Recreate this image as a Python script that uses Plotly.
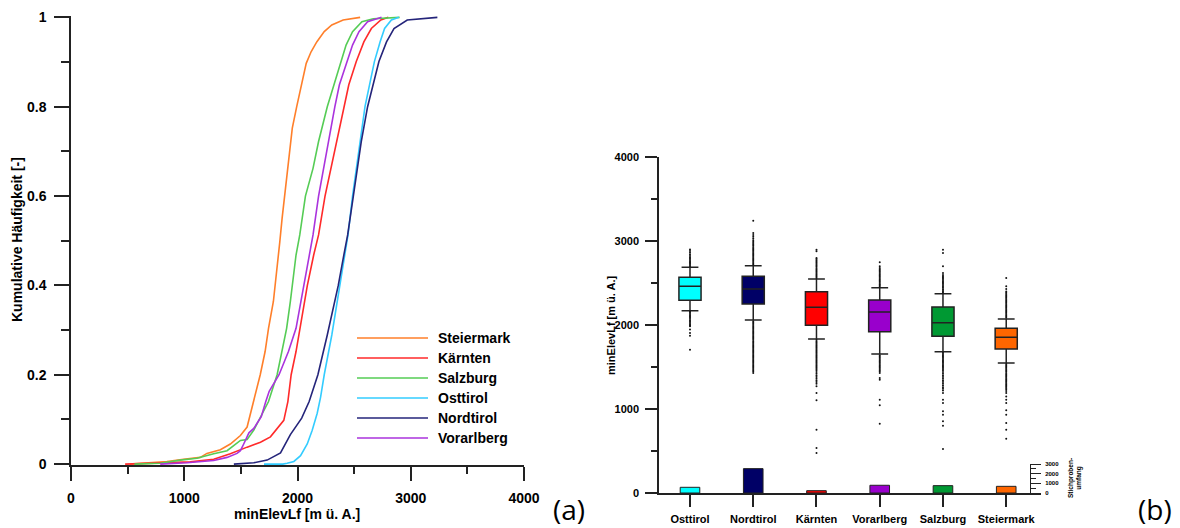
import plotly.graph_objects as go

# ---------------- data: cumulative frequency curves (panel a) ----------------
steiermark_x = [520, 847, 994, 1142, 1200, 1319, 1407, 1496, 1555, 1599, 1625, 1650, 1671, 1714, 1744, 1787,
                1804, 1820, 1844, 1864, 1887, 1914, 1937, 1954, 1993, 2037, 2077, 2120, 2170, 2236, 2303, 2403, 2553]
steiermark_f = [0, 0.006, 0.011, 0.015, 0.024, 0.032, 0.045, 0.064, 0.083, 0.129, 0.15, 0.177, 0.2, 0.252, 0.304,
                0.364, 0.4, 0.438, 0.498, 0.55, 0.6, 0.662, 0.722, 0.752, 0.8, 0.849, 0.897, 0.923, 0.945, 0.968,
                0.983, 0.994, 1.0]

kaernten_x = [478, 906, 1053, 1260, 1407, 1555, 1673, 1761, 1820, 1879, 1915, 1944, 1987, 2020, 2063, 2087, 2143,
              2186, 2243, 2296, 2346, 2409, 2453, 2519, 2586, 2652, 2736, 2802]
kaernten_f = [0, 0.004, 0.005, 0.011, 0.023, 0.038, 0.049, 0.061, 0.08, 0.098, 0.14, 0.2, 0.252, 0.304, 0.364,
              0.4, 0.468, 0.513, 0.6, 0.662, 0.722, 0.8, 0.849, 0.901, 0.945, 0.975, 0.994, 1.0]

salzburg_x = [560, 788, 965, 1112, 1260, 1378, 1496, 1555, 1614, 1671, 1744, 1820, 1864, 1904, 1937, 1954, 1987,
              2020, 2070, 2137, 2186, 2263, 2320, 2380, 2429, 2486, 2569, 2669, 2902]
salzburg_f = [0, 0.002, 0.009, 0.013, 0.023, 0.03, 0.053, 0.055, 0.076, 0.103, 0.14, 0.2, 0.252, 0.304, 0.364,
              0.4, 0.468, 0.513, 0.6, 0.662, 0.722, 0.8, 0.849, 0.901, 0.938, 0.968, 0.99, 0.997, 1.0]

osttirol_x = [1704, 1870, 1909, 1968, 2027, 2086, 2130, 2174, 2204, 2236, 2303, 2353, 2376, 2419, 2446, 2486, 2519,
              2553, 2596, 2636, 2679, 2729, 2769, 2829, 2895]
osttirol_f = [0, 0, 0.002, 0.006, 0.019, 0.045, 0.076, 0.114, 0.15, 0.2, 0.289, 0.364, 0.4, 0.468, 0.513, 0.6,
              0.662, 0.722, 0.8, 0.849, 0.901, 0.945, 0.975, 0.994, 1.0]

nordtirol_x = [1438, 1614, 1732, 1850, 1937, 2037, 2103, 2180, 2263, 2330, 2360, 2409, 2443, 2493, 2529, 2563, 2619,
               2669, 2719, 2786, 2852, 2969, 3235]
nordtirol_f = [0, 0.003, 0.009, 0.025, 0.066, 0.103, 0.14, 0.2, 0.289, 0.364, 0.4, 0.468, 0.513, 0.6, 0.662, 0.722,
               0.8, 0.849, 0.901, 0.945, 0.975, 0.994, 1.0]

vorarlberg_x = [788, 1024, 1260, 1378, 1466, 1496, 1525, 1571, 1614, 1680, 1720, 1750, 1837, 1920, 1987, 2030, 2077,
                2137, 2186, 2230, 2270, 2330, 2370, 2436, 2486, 2543, 2619, 2742]
vorarlberg_f = [0, 0.003, 0.008, 0.015, 0.024, 0.03, 0.045, 0.07, 0.08, 0.106, 0.14, 0.163, 0.2, 0.252, 0.304,
                0.364, 0.438, 0.513, 0.6, 0.662, 0.722, 0.8, 0.849, 0.901, 0.938, 0.968, 0.99, 1.0]

legend_names = ["Steiermark", "Kärnten", "Salzburg", "Osttirol", "Nordtirol", "Vorarlberg"]
line_colors = ["#FF7F2A", "#FF2A2A", "#55CC55", "#33CCFF", "#24247A", "#AA33DD"]

x_ticks_a = [0, 1000, 2000, 3000, 4000]
y_ticks_a = [0, 0.2, 0.4, 0.6, 0.8, 1]
y_ticklabels_a = ["0", "0.2", "0.4", "0.6", "0.8", "1"]

# ---------------- data: box plots (panel b) ----------------
categories = ["Osttirol", "Nordtirol", "Kärnten", "Vorarlberg", "Salzburg", "Steiermark"]
box_colors = ["#00FFFF", "#000066", "#FF0000", "#9900CC", "#009933", "#FF6600"]
q1_vals = [2294, 2250, 1996, 1921, 1865, 1714]
median_vals = [2460, 2429, 2210, 2155, 2028, 1853]
q3_vals = [2567, 2579, 2397, 2298, 2214, 1960]
lower_whisker = [2171, 2060, 1833, 1655, 1683, 1548]
upper_whisker = [2687, 2706, 2548, 2444, 2373, 2071]
sample_size = [590, 2520, 240, 800, 760, 690]
y_ticks_b = [0, 1000, 2000, 3000, 4000]
n_ticks_b = [0, 1000, 2000, 3000]

outliers_osttirol = [2700, 2715, 2730, 2745, 2760, 2775, 2790, 2805, 2820, 2840, 2860, 2880, 2900,
                     2160, 2145, 2130, 2115, 2100, 2085, 2070, 2055, 2040, 2025, 2010, 1995, 1985,
                     1945, 1905, 1873, 1706]
outliers_nordtirol = [2720, 2735, 2750, 2765, 2780, 2795, 2810, 2825, 2840, 2855, 2870, 2885, 2900, 2915, 2930,
                      2945, 2960, 2975, 2990, 3010, 3030, 3050, 3070, 3095, 3242,
                      2045, 2030, 2015, 2000, 1985, 1970, 1955, 1940, 1925, 1910, 1895, 1880, 1865, 1850, 1835,
                      1820, 1805, 1790, 1775, 1760, 1745, 1730, 1715, 1700, 1685, 1670, 1655, 1640, 1625, 1610,
                      1595, 1580, 1565, 1550, 1535, 1520, 1505, 1490, 1475, 1460, 1445, 1430]
outliers_kaernten = [2560, 2575, 2590, 2605, 2620, 2635, 2650, 2665, 2680, 2695, 2710, 2725, 2740, 2755, 2770,
                     2785, 2798, 2877, 2897,
                     1820, 1805, 1790, 1775, 1760, 1745, 1730, 1715, 1700, 1685, 1670, 1655, 1640, 1625, 1610,
                     1595, 1580, 1565, 1550, 1535, 1520, 1505, 1490, 1475, 1460, 1440, 1420, 1400, 1380, 1360,
                     1340, 1320, 1300, 1270, 1190, 1103, 754, 536, 476]
outliers_vorarlberg = [2458, 2472, 2486, 2500, 2515, 2530, 2545, 2560, 2575, 2590, 2605, 2620, 2635, 2650, 2665,
                       2680, 2698, 2746,
                       1640, 1625, 1610, 1595, 1580, 1565, 1550, 1535, 1520, 1505, 1490, 1475, 1460, 1445, 1429,
                       1369, 1349, 1111, 1044, 825]
outliers_salzburg = [2388, 2402, 2416, 2430, 2445, 2460, 2475, 2490, 2505, 2520, 2535, 2550, 2565, 2580, 2595,
                     2619, 2698, 2857, 2897,
                     1670, 1655, 1640, 1625, 1610, 1595, 1580, 1565, 1550, 1535, 1520, 1505, 1490, 1475, 1460,
                     1440, 1420, 1400, 1380, 1360, 1340, 1320, 1300, 1280, 1260, 1240, 1220, 1190, 1111, 1071,
                     972, 933, 853, 802, 524]
outliers_steiermark = [2085, 2100, 2115, 2130, 2145, 2160, 2175, 2190, 2205, 2220, 2235, 2250, 2265, 2280, 2295,
                       2310, 2325, 2340, 2355, 2370, 2385, 2400, 2429, 2460, 2560,
                       1535, 1520, 1505, 1490, 1475, 1460, 1445, 1430, 1415, 1400, 1385, 1370, 1355, 1340, 1325,
                       1310, 1295, 1280, 1265, 1250, 1235, 1215, 1190, 1150, 1110, 1071, 984, 933, 833, 754, 647]

cdf_x = [steiermark_x, kaernten_x, salzburg_x, osttirol_x, nordtirol_x, vorarlberg_x]
cdf_f = [steiermark_f, kaernten_f, salzburg_f, osttirol_f, nordtirol_f, vorarlberg_f]
outliers = [outliers_osttirol, outliers_nordtirol, outliers_kaernten, outliers_vorarlberg,
            outliers_salzburg, outliers_steiermark]

# ---------------- layout helpers ----------------
W, H = 1180, 528
def fx(p):
    return p / W
def fy(p):
    return 1 - p / H
def bold(items):
    return ["<b>%s</b>" % s for s in items]

FONT = "Liberation Sans, Arial, sans-serif"
AX = "#222222"

fig = go.Figure()

for name, col, xs, fs in zip(legend_names, line_colors, cdf_x, cdf_f):
    fig.add_trace(go.Scatter(x=xs, y=fs, mode="lines", name=name,
                             line=dict(color=col, width=1.6), showlegend=False,
                             xaxis="x", yaxis="y"))

for cat, col, a, m, b, lo, hi in zip(categories, box_colors, q1_vals, median_vals, q3_vals,
                                     lower_whisker, upper_whisker):
    fig.add_trace(go.Box(x=[cat], q1=[a], median=[m], q3=[b], lowerfence=[lo], upperfence=[hi],
                         boxpoints=False, fillcolor=col, line=dict(color=AX, width=1.5),
                         whiskerwidth=0.76, showlegend=False, xaxis="x2", yaxis="y2"))

for cat, vals in zip(categories, outliers):
    fig.add_trace(go.Scatter(x=[cat] * len(vals), y=vals, mode="markers",
                             marker=dict(size=2, color="#111111"), showlegend=False,
                             xaxis="x2", yaxis="y2"))

fig.add_trace(go.Bar(x=categories, y=sample_size, width=0.31,
                     marker=dict(color=box_colors, line=dict(color=AX, width=1)),
                     showlegend=False, xaxis="x2", yaxis="y3"))

tickfont_big = dict(family=FONT, size=14, color="black")
tickfont_mid = dict(family=FONT, size=11, color="black")

fig.update_layout(
    width=W, height=H, margin=dict(l=0, r=0, t=0, b=0),
    paper_bgcolor="white", plot_bgcolor="white", template="none",
    font=dict(family=FONT, color="black"),
    boxmode="overlay", boxgap=0.5,
    xaxis=dict(domain=[fx(71), fx(524)], range=[0, 4000], anchor="y",
               tickmode="array", tickvals=x_ticks_a, ticktext=bold([str(v) for v in x_ticks_a]),
               ticks="outside", ticklen=14, tickwidth=1.5,
               tickcolor=AX, showline=True, linecolor=AX, linewidth=1.5, showgrid=False, zeroline=False,
               minor=dict(ticks="outside", ticklen=7, tickwidth=1.5, tickcolor=AX, dtick=500, tick0=0),
               tickfont=tickfont_big, ticklabelstandoff=5, automargin=False, layer="below traces"),
    yaxis=dict(domain=[fy(465), fy(16)], range=[-0.002, 1.003], anchor="x",
               tickmode="array", tickvals=y_ticks_a, ticktext=bold(y_ticklabels_a),
               ticks="outside", ticklen=15, tickwidth=1.5,
               tickcolor=AX, showline=True, linecolor=AX, linewidth=1.5, showgrid=False, zeroline=False,
               minor=dict(ticks="outside", ticklen=8, tickwidth=1.5, tickcolor=AX, dtick=0.1, tick0=0),
               tickfont=tickfont_big, ticklabelstandoff=5, automargin=False, layer="below traces"),
    xaxis2=dict(domain=[fx(659), fx(1041)], type="category", categoryorder="array",
                categoryarray=categories, range=[-0.49, 5.55], anchor="y2",
                tickmode="array", tickvals=categories, ticktext=bold(categories),
                ticks="outside", ticklen=12, tickwidth=1.5, tickcolor=AX, showline=True,
                linecolor=AX, linewidth=1.5, showgrid=False, zeroline=False,
                tickfont=tickfont_mid, ticklabelstandoff=3, automargin=False),
    yaxis2=dict(domain=[fy(493), fy(157)], range=[0, 4000], anchor="x2",
                tickmode="array", tickvals=y_ticks_b, ticktext=bold([str(v) for v in y_ticks_b]),
                ticks="outside", ticklen=12, tickwidth=1.5,
                tickcolor=AX, showline=True, linecolor=AX, linewidth=1.5, showgrid=False, zeroline=False,
                minor=dict(ticks="outside", ticklen=6, tickwidth=1.5, tickcolor=AX, dtick=500, tick0=0),
                tickfont=tickfont_mid, ticklabelstandoff=4, automargin=False),
    yaxis3=dict(domain=[fy(493), fy(464)], range=[0, 3000], anchor="free", position=fx(1030),
                side="right", tickmode="array", tickvals=n_ticks_b,
                ticktext=bold([str(v) for v in n_ticks_b]), ticks="outside", ticklen=10,
                tickwidth=1, tickcolor=AX, showline=True, linecolor=AX, linewidth=1, showgrid=False,
                zeroline=False,
                minor=dict(ticks="outside", ticklen=5, tickwidth=1, tickcolor=AX, dtick=500, tick0=0),
                tickfont=dict(family=FONT, size=6, color="black"),
                ticklabelstandoff=3, automargin=False),
)

annotations = [
    dict(text="<b>minElevLf [m ü. A.]</b>", x=fx(297), y=fy(514), font=dict(family=FONT, size=14)),
    dict(text="<b>Kumulative Häufigkeit [-]</b>", x=fx(17), y=fy(240), textangle=-90,
         font=dict(family=FONT, size=14)),
    dict(text="<b>minElevLf [m ü. A.]</b>", x=fx(611), y=fy(325), textangle=-90,
         font=dict(family=FONT, size=11)),
    dict(text="<b>Stichproben-<br>umfang</b>", x=fx(1075), y=fy(478), textangle=-90,
         font=dict(family=FONT, size=6.5)),
    dict(text="(a)", x=fx(569), y=fy(509), font=dict(family="Open Sans, DejaVu Sans", size=28)),
    dict(text="(b)", x=fx(1155), y=fy(509), font=dict(family="Open Sans, DejaVu Sans", size=28)),
]
shapes = []
for i, (name, col) in enumerate(zip(legend_names, line_colors)):
    ypx = 338 + 20 * i
    shapes.append(dict(type="line", xref="paper", yref="paper", x0=fx(357), x1=fx(428),
                       y0=fy(ypx), y1=fy(ypx), line=dict(color=col, width=1.6)))
    annotations.append(dict(text="<b>%s</b>" % name, x=fx(436), y=fy(ypx), xanchor="left",
                            font=dict(family=FONT, size=14)))

for a in annotations:
    a.setdefault("xref", "paper")
    a.setdefault("yref", "paper")
    a.setdefault("xanchor", "center")
    a.setdefault("yanchor", "middle")
    a.setdefault("showarrow", False)
    a["font"].setdefault("color", "black")

fig.update_layout(annotations=annotations, shapes=shapes)

fig.write_html("out.html")
